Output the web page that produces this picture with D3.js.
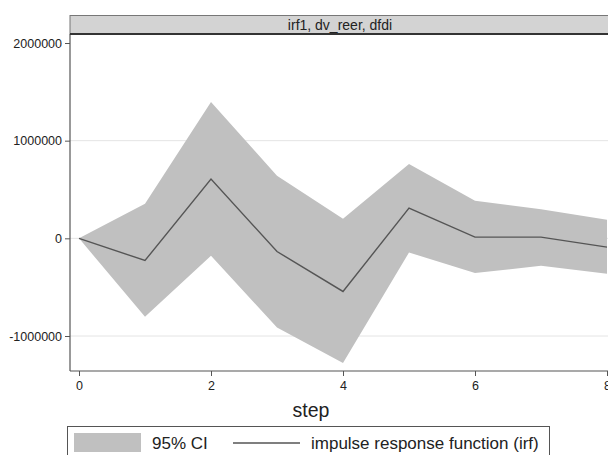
<!DOCTYPE html>
<html>
<head>
<meta charset="utf-8">
<script src="https://cdn.jsdelivr.net/npm/d3@7"></script>
<style>
  html, body { margin: 0; padding: 0; background: #fff; overflow: hidden; }
  text { font-family: "Liberation Sans", Arial, sans-serif; fill: #222; }
</style>
</head>
<body>
<div id="chart"></div>
<script>
// values
const steps = [0, 1, 2, 3, 4, 5, 6, 7, 8]
const irf = [0, -227000, 606000, -135000, -544000, 309000, 12000, 12000, -90000]
const ciUpper = [0, 353000, 1397000, 640000, 200000, 762000, 384000, 299000, 189000]
const ciLower = [0, -803000, -179000, -912000, -1277000, -145000, -356000, -281000, -363000]
const yTicks = [-1000000, 0, 1000000, 2000000]
const xTicks = [0, 2, 4, 6, 8]
const panelTitle = "irf1, dv_reer, dfdi"

const width = 620, height = 455
const plot = { left: 70, right: 616, top: 34, bottom: 371 }

const svg = d3.select("#chart").append("svg")
  .attr("width", width)
  .attr("height", height)

const x = d3.scaleLinear().domain([0, 8]).range([79, 607])
const y = d3.scaleLinear().domain([-1000000, 2000000]).range([336, 43])

// plain hyphen for negatives, like the original
const fmt = d3.formatLocale({ decimal: ".", thousands: "", grouping: [3], currency: ["", ""], minus: "-" }).format("d")

// gridlines
svg.append("g")
  .selectAll("line")
  .data(yTicks.filter(d => d < 2000000))
  .join("line")
  .attr("x1", plot.left).attr("x2", plot.right)
  .attr("y1", d => y(d)).attr("y2", d => y(d))
  .attr("stroke", "#e4e4e4")
  .attr("stroke-width", 1)

// CI band
const rows = steps.map((s, i) => ({ s, lo: ciLower[i], hi: ciUpper[i], v: irf[i] }))
svg.append("path")
  .datum(rows)
  .attr("fill", "#c0c0c0")
  .attr("d", d3.area().x(d => x(d.s)).y0(d => y(d.lo)).y1(d => y(d.hi)))

// irf line
svg.append("path")
  .datum(rows)
  .attr("fill", "none")
  .attr("stroke", "#555")
  .attr("stroke-width", 1.4)
  .attr("d", d3.line().x(d => x(d.s)).y(d => y(d.v)))

// y axis
const yAxis = svg.append("g")
  .attr("transform", `translate(${plot.left},0)`)
  .call(d3.axisLeft(y).tickValues(yTicks).tickSize(5).tickPadding(3).tickFormat(fmt))
yAxis.select(".domain").remove()
yAxis.selectAll(".tick line").attr("stroke", "#555")
yAxis.selectAll(".tick text").style("font-size", "12.5px").attr("fill", "#222")
svg.append("line")
  .attr("x1", plot.left).attr("x2", plot.left)
  .attr("y1", plot.top).attr("y2", plot.bottom)
  .attr("stroke", "#555").attr("stroke-width", 1.2)

// x axis
const xAxis = svg.append("g")
  .attr("transform", `translate(0,${plot.bottom})`)
  .call(d3.axisBottom(x).tickValues(xTicks).tickSize(5).tickPadding(5).tickFormat(fmt))
xAxis.select(".domain").remove()
xAxis.selectAll(".tick line").attr("stroke", "#555")
xAxis.selectAll(".tick text").style("font-size", "12.5px").attr("fill", "#222")
svg.append("line")
  .attr("x1", plot.left).attr("x2", plot.right)
  .attr("y1", plot.bottom).attr("y2", plot.bottom)
  .attr("stroke", "#555").attr("stroke-width", 1.2)

svg.append("text")
  .attr("x", 311).attr("y", 417)
  .attr("text-anchor", "middle")
  .style("font-size", "19.5px")
  .text("step")

// panel strip
svg.append("rect")
  .attr("x", plot.left).attr("y", 15.5)
  .attr("width", plot.right - plot.left).attr("height", plot.top - 15.5)
  .attr("fill", "#d3d3d3")
  .attr("stroke", "#777").attr("stroke-width", 1)
svg.append("line")
  .attr("x1", plot.left).attr("x2", plot.right)
  .attr("y1", plot.top).attr("y2", plot.top)
  .attr("stroke", "#333").attr("stroke-width", 2)
svg.append("text")
  .attr("x", 340).attr("y", 30)
  .attr("text-anchor", "middle")
  .style("font-size", "14px")
  .text(panelTitle)

// legend
const legend = svg.append("g")
legend.append("rect")
  .attr("x", 67.5).attr("y", 426.5)
  .attr("width", 482).attr("height", 40)
  .attr("fill", "#fff").attr("stroke", "#555").attr("stroke-width", 1)
legend.append("rect")
  .attr("x", 74).attr("y", 433)
  .attr("width", 67).attr("height", 19)
  .attr("fill", "#c0c0c0")
legend.append("text")
  .attr("x", 152).attr("y", 449)
  .style("font-size", "17px")
  .text("95% CI")
legend.append("line")
  .attr("x1", 233).attr("x2", 300)
  .attr("y1", 443).attr("y2", 443)
  .attr("stroke", "#555").attr("stroke-width", 1.4)
legend.append("text")
  .attr("x", 311).attr("y", 449)
  .style("font-size", "17px")
  .text("impulse response function (irf)")
</script>
</body>
</html>
